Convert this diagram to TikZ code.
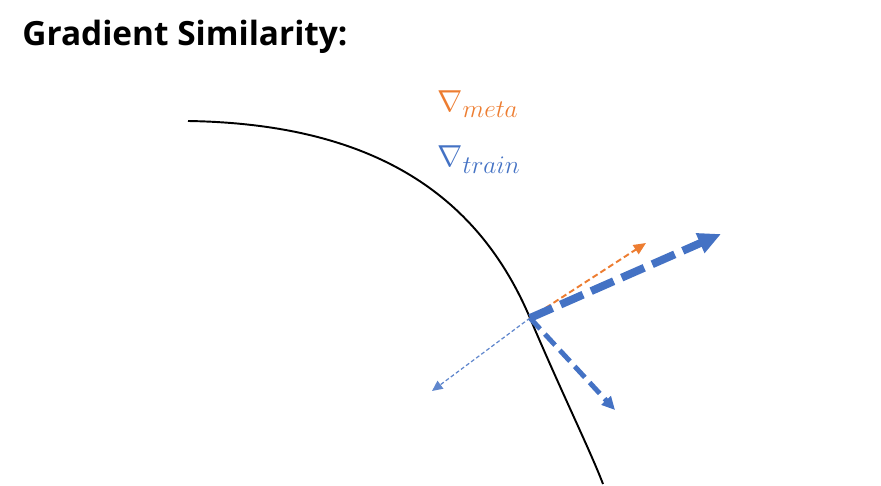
\documentclass[tikz,border=0pt]{standalone}
\usepackage{fontspec}
\setsansfont{Open Sans}
\usetikzlibrary{arrows.meta}
\definecolor{gradorange}{HTML}{ED7D31}
\definecolor{gradblue}{HTML}{4472C4}
\begin{document}
\begin{tikzpicture}[x=0.02cm, y=-0.02cm,
  label/.style={inner sep=0pt, anchor=base west},
  metagrad/.style={gradorange, line width=1.1pt, dash pattern=on 3.4pt off 1.9pt,
    -{Triangle[length=7pt, width=6pt]}},
  traingrad/.style={gradblue, line width=4.5pt, dash pattern=on 14pt off 5pt,
    -{Triangle[length=13pt, width=11.5pt]}},
  projgrad/.style={gradblue, line width=2.8pt, dash pattern=on 8.5pt off 4pt,
    -{Triangle[length=7.5pt, width=7pt]}},
  oppgrad/.style={gradblue!85, line width=0.7pt, dash pattern=on 2.2pt off 1.4pt,
    -{Triangle[length=6pt, width=5.5pt]}}]
  \useasboundingbox (0,0) rectangle (881,486);

  % title
  \node[label] (title) at (22,46)
    {\sffamily\bfseries\fontsize{19}{23}\selectfont Gradient Similarity:};

  % loss curve
  \coordinate (o) at (530,318);
  \draw[line width=1.1pt] (188,121) .. controls (380,124) and (480,200) .. (o)
    .. controls (560,389) and (590,450) .. (603,484);

  % legend
  \node[label, gradorange] (meta) at (437,112)
    {\fontsize{19}{23}\selectfont$\nabla_{meta}$};
  \node[label, gradblue] (train) at (437,167)
    {\fontsize{19}{23}\selectfont$\nabla_{train}$};

  % gradients
  \coordinate (metatip) at (646,243);
  \coordinate (traintip) at (721,234);
  \coordinate (downtip) at (615,410);
  \coordinate (lefttip) at (432,391);
  \draw[oppgrad] (o) -- (lefttip);
  \draw[metagrad] (o) -- (metatip);
  \draw[projgrad] (o) -- (downtip);
  \draw[traingrad] (o) -- (traintip);
\end{tikzpicture}
\end{document}
